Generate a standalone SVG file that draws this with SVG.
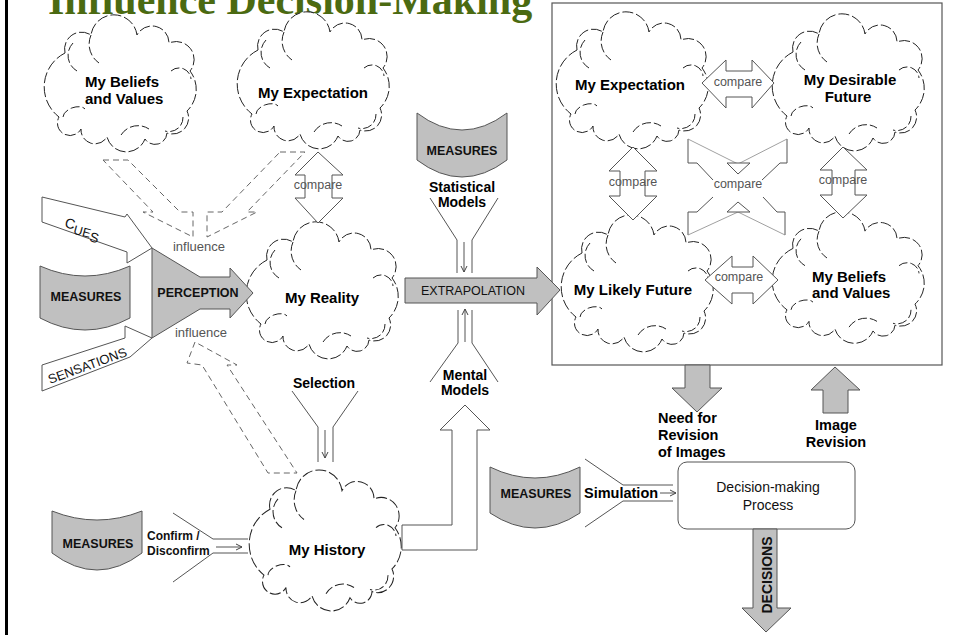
<svg xmlns="http://www.w3.org/2000/svg" width="953" height="635" viewBox="0 0 953 635">
<style>
  text{font-family:"Liberation Sans",Arial,Helvetica,sans-serif}
  .lbl{font-weight:bold;font-size:15px;fill:#000}
  .sm{font-weight:bold;font-size:14px;fill:#000}
  .meas{font-weight:bold;font-size:12.5px;fill:#111}
  .cmp{font-size:12.5px;fill:#555}
  .inf{font-size:13px;fill:#555}
  .gray{fill:#c0c0c0;stroke:#555;stroke-width:1}
  .hollow{fill:#fff;stroke:#555;stroke-width:1}
  .dash{fill:none;stroke:#666;stroke-width:1;stroke-dasharray:6 4}
  .ln{fill:none;stroke:#555;stroke-width:1}
  .thin{fill:none;stroke:#888;stroke-width:0.8}
  .cl{fill:none;stroke:#222;stroke-width:1;stroke-dasharray:9 3}
  .clf{fill:#fff;stroke:#222;stroke-width:1;stroke-dasharray:11 3}
</style>
<defs>
  <marker id="ah" markerWidth="8" markerHeight="8" refX="7" refY="4" orient="auto" markerUnits="userSpaceOnUse">
    <path d="M1,1 L7,4 L1,7" fill="none" stroke="#444" stroke-width="1"/>
  </marker>
  <!-- cloud outline with inner curls, local box about 148 x 145 -->
  <g id="cloud">
    <path class="clf" d="M20,40 A17,17 0 0 1 46,22 A23.2,23.2 0 0 1 92,22 A17,17 0 0 1 124,30 A18,18 0 0 1 145,58 A30,30 0 0 1 142,98 A16,16 0 0 1 122,120 A12,12 0 0 1 100,126 A20,20 0 0 1 62,124 A14,14 0 0 1 36,116 A12,12 0 0 1 14,104 A38,38 0 0 1 20,40 Z"/>
    <path class="cl" d="M46,22 A23,23 0 0 0 54,50"/>
    <path class="cl" d="M28,30 A18,18 0 0 0 32,58"/>
    <path class="cl" d="M126,58 A12,12 0 0 1 146,66"/>
    <path class="cl" d="M138,104 A14,14 0 0 1 120,118"/>
    <path class="cl" d="M18,104 A12,7 -20 0 1 40,96"/>
    <path class="cl" d="M76,122 A20,20 0 0 1 104,116"/>
  </g>
</defs>

<rect width="953" height="635" fill="#fff"/>

<!-- frame line and heading -->
<line x1="6.5" y1="0" x2="6.5" y2="635" stroke="#000" stroke-width="3"/>
<text x="48" y="14" style="font-family:'Liberation Serif','Times New Roman',serif;font-weight:bold;font-size:42px;fill:#4b6a11">Influence Decision-Making</text>

<!-- image frame on the right -->
<rect id="images-frame" x="552" y="3" width="390" height="362" fill="none" stroke="#555" stroke-width="1.2"/>

<!-- clouds -->
<g id="beliefs-left">
  <use href="#cloud" transform="translate(45,13)"/>
  <text class="lbl" x="85" y="87">My Beliefs</text>
  <text class="lbl" x="85" y="104">and Values</text>
</g>
<g id="expectation-left">
  <use href="#cloud" transform="translate(238,10)"/>
  <text class="lbl" x="313" y="98" text-anchor="middle">My Expectation</text>
</g>
<g id="reality">
  <use href="#cloud" transform="translate(247,220)"/>
  <text class="lbl" x="322" y="303" text-anchor="middle">My Reality</text>
</g>
<g id="history">
  <use href="#cloud" transform="translate(250,468) scale(1,1.03)"/>
  <text class="lbl" x="327" y="555" text-anchor="middle">My History</text>
</g>
<g id="expectation-right">
  <use href="#cloud" transform="translate(557,10)"/>
  <text class="lbl" x="630" y="90" text-anchor="middle">My Expectation</text>
</g>
<g id="desirable-future">
  <use href="#cloud" transform="translate(773,12)"/>
  <text class="lbl" x="850" y="85" text-anchor="middle">My Desirable</text>
  <text class="lbl" x="848" y="102" text-anchor="middle">Future</text>
</g>
<g id="likely-future">
  <use href="#cloud" transform="translate(562,213)"/>
  <text class="lbl" x="633" y="295" text-anchor="middle">My Likely Future</text>
</g>
<g id="beliefs-right">
  <use href="#cloud" transform="translate(773,210) scale(1,0.96)"/>
  <text class="lbl" x="812" y="282">My Beliefs</text>
  <text class="lbl" x="812" y="298">and Values</text>
</g>

<!-- measures stores -->
<g id="measures-left">
  <path class="gray" d="M40,266 Q85,286 130,266 L130,318 Q85,342 40,318 Z"/>
  <text class="meas" x="86" y="301" text-anchor="middle">MEASURES</text>
</g>
<g id="measures-top">
  <path class="gray" d="M417,113 Q462,147 507,113 L507,160 Q462,194 417,160 Z"/>
  <text class="meas" x="462" y="155" text-anchor="middle">MEASURES</text>
</g>
<g id="measures-history">
  <path class="gray" d="M52,511 Q97,529 142,511 L142,553 Q97,587 52,553 Z"/>
  <text class="meas" x="98" y="548" text-anchor="middle">MEASURES</text>
</g>
<g id="measures-simulation">
  <path class="gray" d="M490,467 Q535,489 580,467 L580,513 Q535,543 490,513 Z"/>
  <text class="meas" x="536" y="498" text-anchor="middle">MEASURES</text>
</g>

<!-- perception -->
<g id="perception">
  <polygon class="gray" points="152,248 200,277 230,277 230,268 253,293 230,318 230,309 200,309 152,338"/>
  <text x="198" y="297" text-anchor="middle" style="font-weight:bold;font-size:12.5px;fill:#111">PERCEPTION</text>
</g>

<!-- extrapolation -->
<g id="extrapolation">
  <polygon class="gray" points="405,278 537,278 537,267 560,290 537,315 537,303 405,303"/>
  <text x="473" y="295" text-anchor="middle" style="font-size:12.5px;fill:#111">EXTRAPOLATION</text>
</g>

<!-- decision-making process -->
<g id="decision-process">
  <rect x="678" y="462" width="177" height="67" rx="9" fill="#fff" stroke="#555" stroke-width="1"/>
  <text x="768" y="492" text-anchor="middle" style="font-size:14px;fill:#111">Decision-making</text>
  <text x="768" y="510" text-anchor="middle" style="font-size:14px;fill:#111">Process</text>
</g>

<g id="connectors">
  <!-- cues and sensations -->
  <polygon class="hollow" points="42,197 125,217 127,214 152,248 127,263 127,252 42,222"/>
  <text style="font-size:14px;fill:#111" transform="translate(64,227) rotate(15)">C<tspan font-size="12.5" dy="4">UE</tspan><tspan font-size="13.5" dy="3">S</tspan></text>
  <polygon class="hollow" points="42,365 125,338 125,326 152,338 130,357 42,391"/>
  <text style="font-size:13px;fill:#111" transform="translate(50,384) rotate(-20)">SENSATIONS</text>

  <!-- influence arrows -->
  <polygon class="dash" points="103,160 128,160 180,212 193,212 193,237 143,212 153,212"/>
  <polygon class="dash" points="280,152 305,152 247,212 257,212 207,237 207,212 222,212"/>
  <polygon class="dash" points="195,342 187,363 202,365 268,473 297,473 227,365 237,365"/>
  <text class="inf" x="199" y="251" text-anchor="middle">influence</text>
  <text class="inf" x="201" y="337" text-anchor="middle">influence</text>

  <!-- expectation vs reality -->
  <polygon class="hollow" points="318,152 343,175 332,175 332,198 343,198 318,223 295,198 305,198 305,175 295,175"/>
  <text class="cmp" x="318" y="189" text-anchor="middle">compare</text>

  <!-- selection funnel -->
  <text class="sm" x="324" y="388" text-anchor="middle">Selection</text>
  <path class="ln" d="M292,391 L318,427 L318,462 M358,391 L333,427 L333,462"/>
  <path class="ln" d="M325,430 L325,458" marker-end="url(#ah)"/>

  <!-- statistical models funnel -->
  <text class="sm" x="462" y="192" text-anchor="middle">Statistical</text>
  <text class="sm" x="462" y="207" text-anchor="middle">Models</text>
  <path class="ln" d="M430,198 L457,240 L457,273 M498,198 L472,240 L472,273"/>
  <path class="ln" d="M464,242 L464,272" marker-end="url(#ah)"/>

  <!-- mental models funnel -->
  <text class="sm" x="465" y="380" text-anchor="middle">Mental</text>
  <text class="sm" x="465" y="395" text-anchor="middle">Models</text>
  <path class="ln" d="M430,382 L458,343 L458,310 M498,382 L472,343 L472,310"/>
  <path class="ln" d="M465,342 L465,309" marker-end="url(#ah)"/>

  <!-- history to mental models -->
  <polygon class="hollow" points="402,525 452,525 452,430 440,430 465,405 490,430 477,430 477,550 402,550"/>

  <!-- confirm / disconfirm funnel -->
  <text x="147" y="540" style="font-weight:bold;font-size:12px;fill:#111">Confirm /</text>
  <text x="147" y="555" style="font-weight:bold;font-size:12px;fill:#111">Disconfirm</text>
  <path class="ln" d="M173,513 L213,539 L248,539 M173,582 L213,553 L248,553"/>
  <path class="ln" d="M216,547 L242,547" marker-end="url(#ah)"/>

  <!-- simulation funnel -->
  <text class="sm" x="584" y="498" style="font-size:14.5px">Simulation</text>
  <path class="ln" d="M585,459 L623,485 L673,485 M585,527 L623,501 L673,501"/>
  <path class="ln" d="M660,493 L676,493" marker-end="url(#ah)"/>

  <!-- revision arrows -->
  <polygon class="gray" points="685,365 710,365 710,388 722,388 697,412 672,388 685,388"/>
  <text class="sm" x="658" y="423" style="font-size:14.5px">Need for</text>
  <text class="sm" x="658" y="440" style="font-size:14.5px">Revision</text>
  <text class="sm" x="658" y="457" style="font-size:14.5px">of Images</text>
  <polygon class="gray" points="835,367 860,390 848,390 848,413 823,413 823,390 811,390"/>
  <text class="sm" x="836" y="430" text-anchor="middle" style="font-size:14.5px">Image</text>
  <text class="sm" x="836" y="447" text-anchor="middle" style="font-size:14.5px">Revision</text>

  <!-- decisions -->
  <polygon class="gray" points="753,529 777,529 777,608 791,608 766,632 742,608 753,608"/>
  <text x="772" y="575" text-anchor="middle" transform="rotate(-90 772 575)" style="font-weight:bold;font-size:14px;fill:#111">DECISIONS</text>

  <!-- comparisons among the images -->
  <polygon class="hollow" points="702,83 726,60 726,71 752,71 752,60 774,83 752,108 752,97 726,97 726,108"/>
  <text class="cmp" x="738" y="86" text-anchor="middle">compare</text>
  <polygon class="hollow" points="705,280 732,256 732,267 753,267 753,256 778,280 753,304 753,293 732,293 732,304"/>
  <text class="cmp" x="739" y="281" text-anchor="middle">compare</text>
  <polygon class="hollow" points="633,147 657,171 645,171 645,196 657,196 633,220 609,196 620,196 620,171 609,171"/>
  <text class="cmp" x="633" y="186" text-anchor="middle">compare</text>
  <polygon class="hollow" points="843,147 867,170 855,170 855,195 867,195 843,218 820,195 832,195 832,170 820,170"/>
  <text class="cmp" x="843" y="184" text-anchor="middle">compare</text>

  <!-- crossing comparison -->
  <path class="ln" d="M688,139 L688,163 L697,163 L713,180 M787,139 L787,163 L780,163 L762,180"/>
  <path class="ln" d="M688,235 L688,212 L697,212 L713,197 M785,235 L785,212 L777,212 L763,197"/>
  <path class="thin" d="M688,139 L738,164 L787,139 M688,235 L738,212 L785,235"/>
  <polygon class="hollow" points="727,163 750,163 738,174"/>
  <polygon class="hollow" points="727,212 750,212 738,202"/>
  <text class="cmp" x="738" y="188" text-anchor="middle">compare</text>
</g>
</svg>
